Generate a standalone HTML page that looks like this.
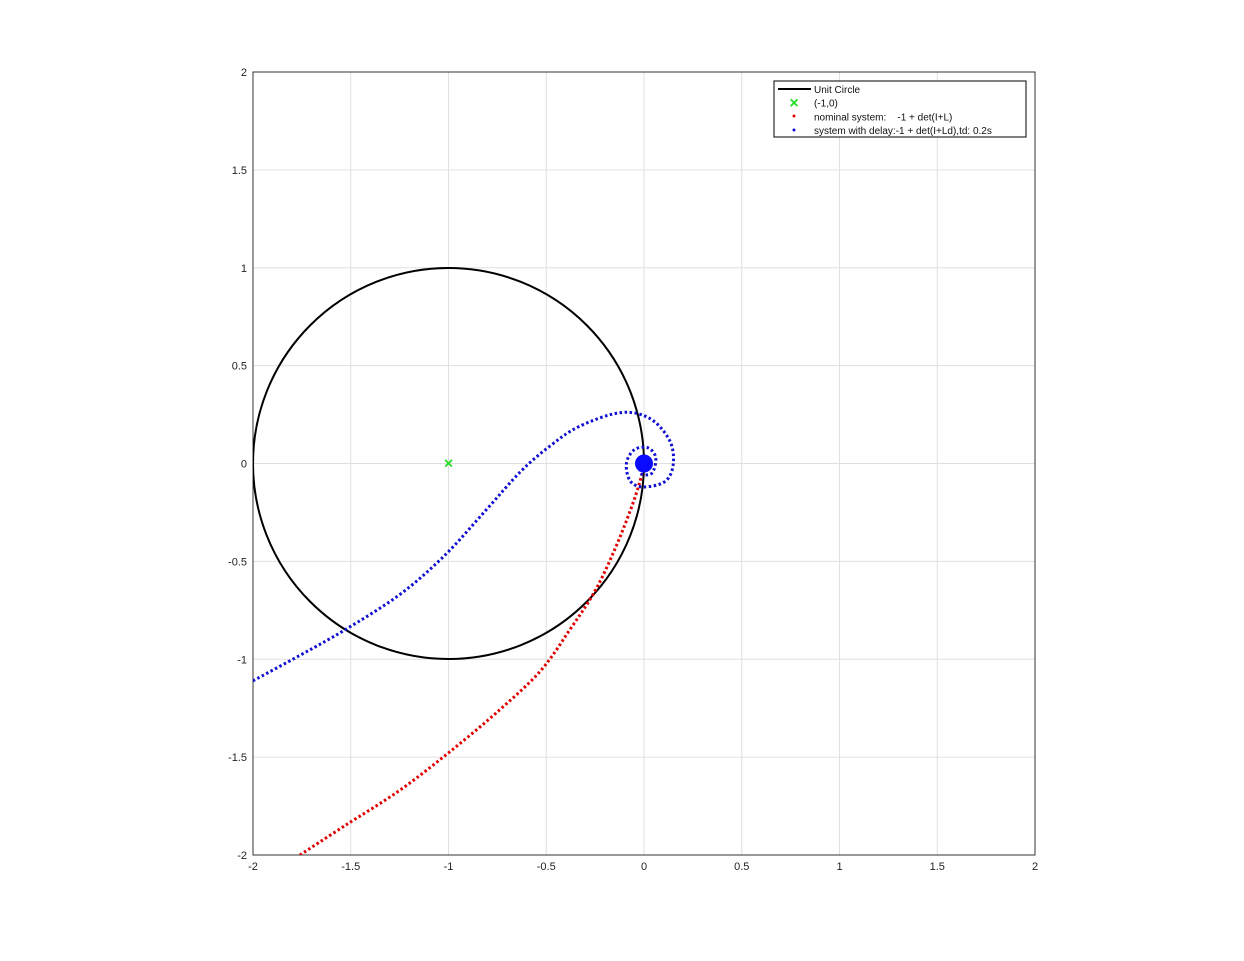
<!DOCTYPE html>
<html><head><meta charset="utf-8"><style>
body{margin:0;background:#fff;}
svg{display:block;font-family:"Liberation Sans",sans-serif;}
text{white-space:pre;}
</style></head><body>
<svg id="chart" width="1244" height="961" viewBox="0 0 1244 961"></svg>
<script>
const xTicks=[-2,-1.5,-1,-0.5,0,0.5,1,1.5,2];
const yTicks=[-2,-1.5,-1,-0.5,0,0.5,1,1.5,2];
const tickLabels=["-2","-1.5","-1","-0.5","0","0.5","1","1.5","2"];
const redX=[-1.76,-1.53,-1.25,-0.99,-0.74,-0.53,-0.38,-0.25,-0.15,-0.07,-0.02,0];
const redY=[-2.0,-1.85,-1.67,-1.47,-1.26,-1.06,-0.85,-0.65,-0.44,-0.24,-0.09,0];
const blueX=[-2.0,-1.76,-1.53,-1.25,-1.02,-0.81,-0.63,-0.48,-0.33,-0.12,0.03,0.13,0.15,0.11,0.0,-0.07,-0.09,-0.05,0.02,0.06,0.04,-0.02,0];
const blueY=[-1.11,-0.98,-0.85,-0.67,-0.47,-0.24,-0.04,0.09,0.19,0.26,0.23,0.12,0,-0.09,-0.12,-0.09,0,0.07,0.08,0.03,-0.05,-0.05,0];
const L=253,R=1035,T=72,B=855;
const sx=v=>L+(v+2)/4*(R-L);
const sy=v=>B-(v+2)/4*(B-T);
const NS="http://www.w3.org/2000/svg";
const svg=document.getElementById('chart');
function mk(tag,attrs,parent){const e=document.createElementNS(NS,tag);for(const k in attrs)e.setAttribute(k,attrs[k]);(parent||svg).appendChild(e);return e;}
const clip=mk('clipPath',{id:'pc'});mk('rect',{x:L,y:T,width:R-L,height:B-T},clip);
let e=mk('rect',{x:L,y:T,width:R-L,height:B-T,fill:'#fff',stroke:'none'});


xTicks.forEach((v,i)=>{
 let g=mk('line',{x1:sx(v),x2:sx(v),y1:T,y2:B,stroke:'#e0e0e0','stroke-width':1});
 
 
 let t=mk('text',{x:sx(v),y:B+15,'font-size':11,'text-anchor':'middle',fill:'#222'});t.textContent=tickLabels[i];
 
 
});
yTicks.forEach((v,i)=>{
 let g=mk('line',{x1:L,x2:R,y1:sy(v),y2:sy(v),stroke:'#e0e0e0','stroke-width':1});
 
 
 let t=mk('text',{x:L-6,y:sy(v)+4,'font-size':11,'text-anchor':'end',fill:'#222'});t.textContent=tickLabels[i];
 
 
});
e=mk('rect',{x:L,y:T,width:R-L,height:B-T,fill:'none',stroke:'#333','stroke-width':1});


const g=mk('g',{'clip-path':'url(#pc)'});
e=mk('circle',{cx:sx(-1),cy:sy(0),r:sx(0)-sx(-1),fill:'none',stroke:'#000','stroke-width':2},g);


function smoothPath(xs,ys){
 const P=xs.map((x,i)=>[sx(x),sy(ys[i])]);
 let d='M'+P[0][0]+','+P[0][1];
 for(let i=0;i<P.length-1;i++){
  const p0=P[Math.max(0,i-1)],p1=P[i],p2=P[i+1],p3=P[Math.min(P.length-1,i+2)];
  const c1=[p1[0]+(p2[0]-p0[0])/6,p1[1]+(p2[1]-p0[1])/6];
  const c2=[p2[0]-(p3[0]-p1[0])/6,p2[1]-(p3[1]-p1[1])/6];
  d+=' C'+c1+' '+c2+' '+p2;
 }
 return d;
}
function series(xs,ys,color,name){
 const p=mk('path',{d:smoothPath(xs,ys),fill:'none',stroke:color,'stroke-width':3,'stroke-dasharray':'2.5 2.5'},g);
 
 
}
series(redX,redY,'#e00000','nominal-series');
series(blueX,blueY,'#1010d0','delay-series');
e=mk('circle',{cx:sx(0),cy:sy(0),r:9,fill:'#0a0aff'},g);


e=mk('text',{x:sx(-1),y:sy(0)+5,'font-size':16,'font-weight':'bold','text-anchor':'middle',fill:'#22dd22'},g);e.textContent='×';


const lg=mk('g',{});


mk('rect',{x:774,y:81,width:252,height:56,fill:'#fff',stroke:'#000','stroke-width':1},lg);
mk('line',{x1:778,x2:811,y1:89,y2:89,stroke:'#000','stroke-width':2},lg);
const labels=['Unit Circle','(-1,0)','nominal system:    -1 + det(I+L)','system with delay:-1 + det(I+Ld),td: 0.2s'];
labels.forEach((s,i)=>{let t=mk('text',{x:814,y:93+i*13.7,'font-size':10,fill:'#111','xml:space':'preserve'},lg);t.textContent=s;
 
 });
let m=mk('text',{x:794,y:108,'font-size':16,'font-weight':'bold','text-anchor':'middle',fill:'#22dd22'},lg);m.textContent='×';
mk('circle',{cx:794,cy:116,r:1.5,fill:'#e00000'},lg);
mk('circle',{cx:794,cy:130,r:1.5,fill:'#1010d0'},lg);
</script>
</body></html>
